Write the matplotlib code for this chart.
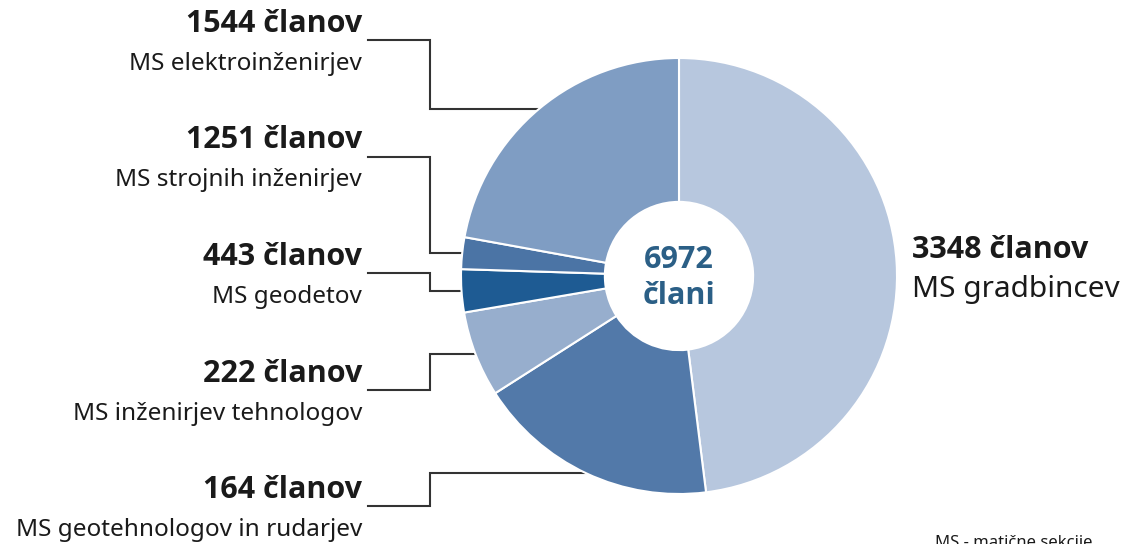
import numpy as np
import matplotlib.pyplot as plt

# slices clockwise from 12 o'clock
values = [3348, 1251, 443, 222, 164, 1544]
colors = ['#b7c7de', '#5279a9', '#97aecd', '#1e5b93', '#4b74a5', '#7f9dc3']

# left-side labels, top to bottom
left_counts = ['1544 članov', '1251 članov', '443 članov', '222 članov', '164 članov']
left_names = ['MS elektroinženirjev', 'MS strojnih inženirjev', 'MS geodetov',
              'MS inženirjev tehnologov', 'MS geotehnologov in rudarjev']
# wedge each left label points to (index into values)
left_targets = [5, 4, 3, 2, 1]

right_count = '3348 članov'
right_name = 'MS gradbincev'
total_text = '6972\nčlani'
footnote = 'MS - matične sekcije'

W, H = 1128, 544
fig = plt.figure(figsize=(W / 100, H / 100), dpi=100)
ax = fig.add_axes([0, 0, 1, 1])

cx, cy, R = 679, H - 276, 218
wedges, _ = ax.pie(values, colors=colors, startangle=90, counterclock=False,
                   center=(cx, cy), radius=R, frame=True,
                   wedgeprops=dict(width=R * 0.66, edgecolor='white', linewidth=1.5))
ax.set_xlim(0, W)
ax.set_ylim(0, H)
ax.set_aspect('equal')
ax.axis('off')

bold_font = ['Open Sans', 'DejaVu Sans']
reg_font = ['Noto Sans', 'DejaVu Sans']

ax.text(cx, cy - 2, total_text, ha='center', va='center', fontsize=22,
        fontweight='bold', color='#2b5f86', family=bold_font, linespacing=1.25)

text_x = 362
line_end_x = 368
elbow_x = 430
for i, (cnt, name, t) in enumerate(zip(left_counts, left_names, left_targets)):
    ty = H - (24 + i * 116.5)
    ax.text(text_x, ty, cnt, ha='right', va='center', fontsize=22,
            fontweight='bold', color='#1a1a1a', family=bold_font)
    ax.text(text_x, ty - 40, name, ha='right', va='center', fontsize=17.5,
            color='#1a1a1a', family=reg_font)
    w = wedges[t]
    mid = np.deg2rad((w.theta1 + w.theta2) / 2)
    px = cx + R * np.cos(mid)
    py = cy + R * np.sin(mid)
    ly = ty - 16
    ax.plot([line_end_x, elbow_x, elbow_x, px], [ly, ly, py, py],
            color='#333333', lw=1.5, solid_joinstyle='miter', zorder=0)

ax.text(912, H - 250, right_count, ha='left', va='center', fontsize=22,
        fontweight='bold', color='#1a1a1a', family=bold_font)
ax.text(912, H - 290, right_name, ha='left', va='center', fontsize=21.5,
        color='#1a1a1a', family=reg_font)

ax.text(935, H - 535, footnote, ha='left', va='top', fontsize=12,
        color='#1a1a1a', family=reg_font)

fig.savefig('out.png', dpi=100)
